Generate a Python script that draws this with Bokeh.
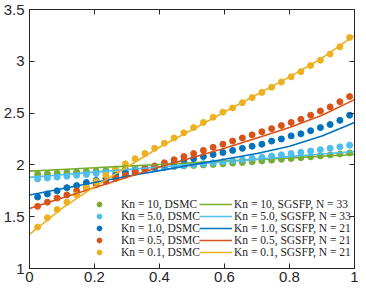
from bokeh.plotting import figure
from bokeh.models import Legend, LegendItem, LinearAxis, FixedTicker, Range1d
from bokeh.embed import file_html
from bokeh.resources import INLINE

# ---- data ----
x_dsmc = [0.025, 0.055, 0.085, 0.115, 0.145, 0.175, 0.205, 0.235, 0.265, 0.295,
          0.325, 0.355, 0.385, 0.415, 0.445, 0.475, 0.505, 0.535, 0.565, 0.595,
          0.625, 0.655, 0.685, 0.715, 0.745, 0.775, 0.805, 0.835, 0.865, 0.895,
          0.925, 0.955, 0.985]
dsmc_kn10 = [1.910, 1.915, 1.920, 1.926, 1.931, 1.936, 1.941, 1.947, 1.952, 1.957,
             1.962, 1.968, 1.973, 1.978, 1.984, 1.989, 1.994, 2.000, 2.005, 2.010,
             2.017, 2.024, 2.031, 2.038, 2.046, 2.054, 2.062, 2.070, 2.078, 2.087,
             2.096, 2.105, 2.115]
dsmc_kn5 = [1.865, 1.873, 1.882, 1.890, 1.899, 1.908, 1.917, 1.925, 1.934, 1.943,
            1.951, 1.960, 1.968, 1.977, 1.986, 1.994, 2.003, 2.012, 2.021, 2.030,
            2.041, 2.052, 2.063, 2.074, 2.085, 2.097, 2.109, 2.121, 2.134, 2.147,
            2.160, 2.174, 2.190]
dsmc_kn1 = [1.69, 1.72, 1.75, 1.78, 1.80, 1.83, 1.85, 1.87, 1.90, 1.92,
            1.94, 1.96, 1.98, 2.00, 2.02, 2.04, 2.06, 2.08, 2.10, 2.12,
            2.14, 2.16, 2.18, 2.20, 2.23, 2.25, 2.28, 2.30, 2.33, 2.36,
            2.39, 2.43, 2.48]
dsmc_kn05 = [1.60, 1.64, 1.68, 1.71, 1.75, 1.78, 1.81, 1.84, 1.87, 1.90,
             1.93, 1.96, 1.99, 2.02, 2.05, 2.08, 2.11, 2.14, 2.17, 2.20,
             2.23, 2.26, 2.29, 2.32, 2.35, 2.38, 2.41, 2.44, 2.48, 2.52,
             2.56, 2.61, 2.66]
dsmc_kn01 = [1.40, 1.49, 1.57, 1.64, 1.71, 1.78, 1.84, 1.90, 1.96, 2.01,
             2.06, 2.11, 2.16, 2.21, 2.26, 2.31, 2.36, 2.41, 2.46, 2.51,
             2.55, 2.60, 2.65, 2.70, 2.75, 2.80, 2.85, 2.90, 2.96, 3.01,
             3.07, 3.14, 3.23]

x_sgsfp = [0.0, 0.1, 0.2, 0.3, 0.4, 0.5, 0.6, 0.7, 0.8, 0.9, 1.0]
sgsfp_kn10 = [1.940, 1.956, 1.972, 1.988, 2.004, 2.020, 2.036, 2.052, 2.068, 2.084, 2.100]
sgsfp_kn5 = [1.880, 1.905, 1.930, 1.955, 1.980, 2.005, 2.030, 2.055, 2.080, 2.105, 2.130]
sgsfp_kn1 = [1.71, 1.77, 1.83, 1.89, 1.945, 2.00, 2.055, 2.11, 2.18, 2.28, 2.41]
sgsfp_kn05 = [1.58, 1.68, 1.78, 1.88, 1.98, 2.07, 2.16, 2.26, 2.36, 2.48, 2.63]
sgsfp_kn01 = [1.33, 1.58, 1.79, 1.98, 2.17, 2.34, 2.51, 2.68, 2.85, 3.03, 3.25]

dsmc_labels = ["Kn = 10, DSMC", "Kn = 5.0, DSMC", "Kn = 1.0, DSMC",
               "Kn = 0.5, DSMC", "Kn = 0.1, DSMC"]
sgsfp_labels = ["Kn = 10, SGSFP, N = 33", "Kn = 5.0, SGSFP, N = 33",
                "Kn = 1.0, SGSFP, N = 21", "Kn = 0.5, SGSFP, N = 21",
                "Kn = 0.1, SGSFP, N = 21"]
colors = ["#77AC30", "#4DBEEE", "#0072BD", "#D95319", "#EDB120"]
x_ticks = [0, 0.2, 0.4, 0.6, 0.8, 1]
y_ticks = [1, 1.5, 2, 2.5, 3, 3.5]

dsmc_series = [dsmc_kn10, dsmc_kn5, dsmc_kn1, dsmc_kn05, dsmc_kn01]
sgsfp_series = [sgsfp_kn10, sgsfp_kn5, sgsfp_kn1, sgsfp_kn05, sgsfp_kn01]

AX = "#262626"

p = figure(width=358, height=286, x_range=Range1d(0, 1), y_range=Range1d(1, 3.5),
           output_backend="svg", toolbar_location=None,
           min_border_left=24, min_border_right=4, min_border_top=9, min_border_bottom=18)
p.grid.visible = False
p.outline_line_color = AX
p.outline_line_width = 1
p.background_fill_color = "white"
p.border_fill_color = "white"

def style_axis(ax, labels=True):
    ax.axis_line_color = AX
    ax.axis_line_width = 1
    ax.major_tick_line_color = AX
    ax.major_tick_in = 5
    ax.major_tick_out = 0
    ax.minor_tick_line_color = None
    if labels:
        ax.major_label_text_font = "Liberation Sans"
        ax.major_label_text_font_size = "15px"
        ax.major_label_text_color = AX
    else:
        ax.major_label_text_color = None
        ax.major_label_text_font_size = "0px"
        ax.major_label_standoff = 0
        ax.axis_label_standoff = 0

p.xaxis.ticker = FixedTicker(ticks=x_ticks)
p.yaxis.ticker = FixedTicker(ticks=y_ticks)
style_axis(p.xaxis[0])
style_axis(p.yaxis[0])
p.xaxis.major_label_standoff = 3
p.yaxis.major_label_standoff = 5
p.xaxis.major_label_overrides = {0: "0", 1: "1"}
p.yaxis.major_label_overrides = {1: "1", 2: "2", 3: "3"}

top = LinearAxis(ticker=FixedTicker(ticks=x_ticks))
style_axis(top, labels=False)
p.add_layout(top, "above")
right = LinearAxis(ticker=FixedTicker(ticks=y_ticks))
style_axis(right, labels=False)
p.add_layout(right, "right")

dot_items = []
line_items = []
for ys, c, lab in zip(dsmc_series, colors, dsmc_labels):
    r = p.scatter(x_dsmc, ys, marker="circle", size=6, fill_color=c, line_color=c)
    dot_items.append(LegendItem(label=lab, renderers=[r]))
for ys, c, lab in zip(sgsfp_series, colors, sgsfp_labels):
    r = p.line(x_sgsfp, ys, line_color=c, line_width=1.6)
    line_items.append(LegendItem(label=lab, renderers=[r]))

def make_legend(items, loc, gw, standoff):
    lg = Legend(items=items, location=loc, orientation="vertical",
                label_text_font="Liberation Serif", label_text_font_size="11.5px",
                label_text_line_height=0.9,
                label_text_color=AX, label_height=12, glyph_height=12,
                glyph_width=gw, label_standoff=standoff, spacing=0,
                padding=0, margin=0, border_line_color=None,
                background_fill_alpha=0)
    return lg

p.add_layout(make_legend(dot_items, (64, 10), 12, 16), "center")
p.add_layout(make_legend(line_items, (170, 10), 33, 2), "center")

open("out.html", "w").write(file_html(p, INLINE))
